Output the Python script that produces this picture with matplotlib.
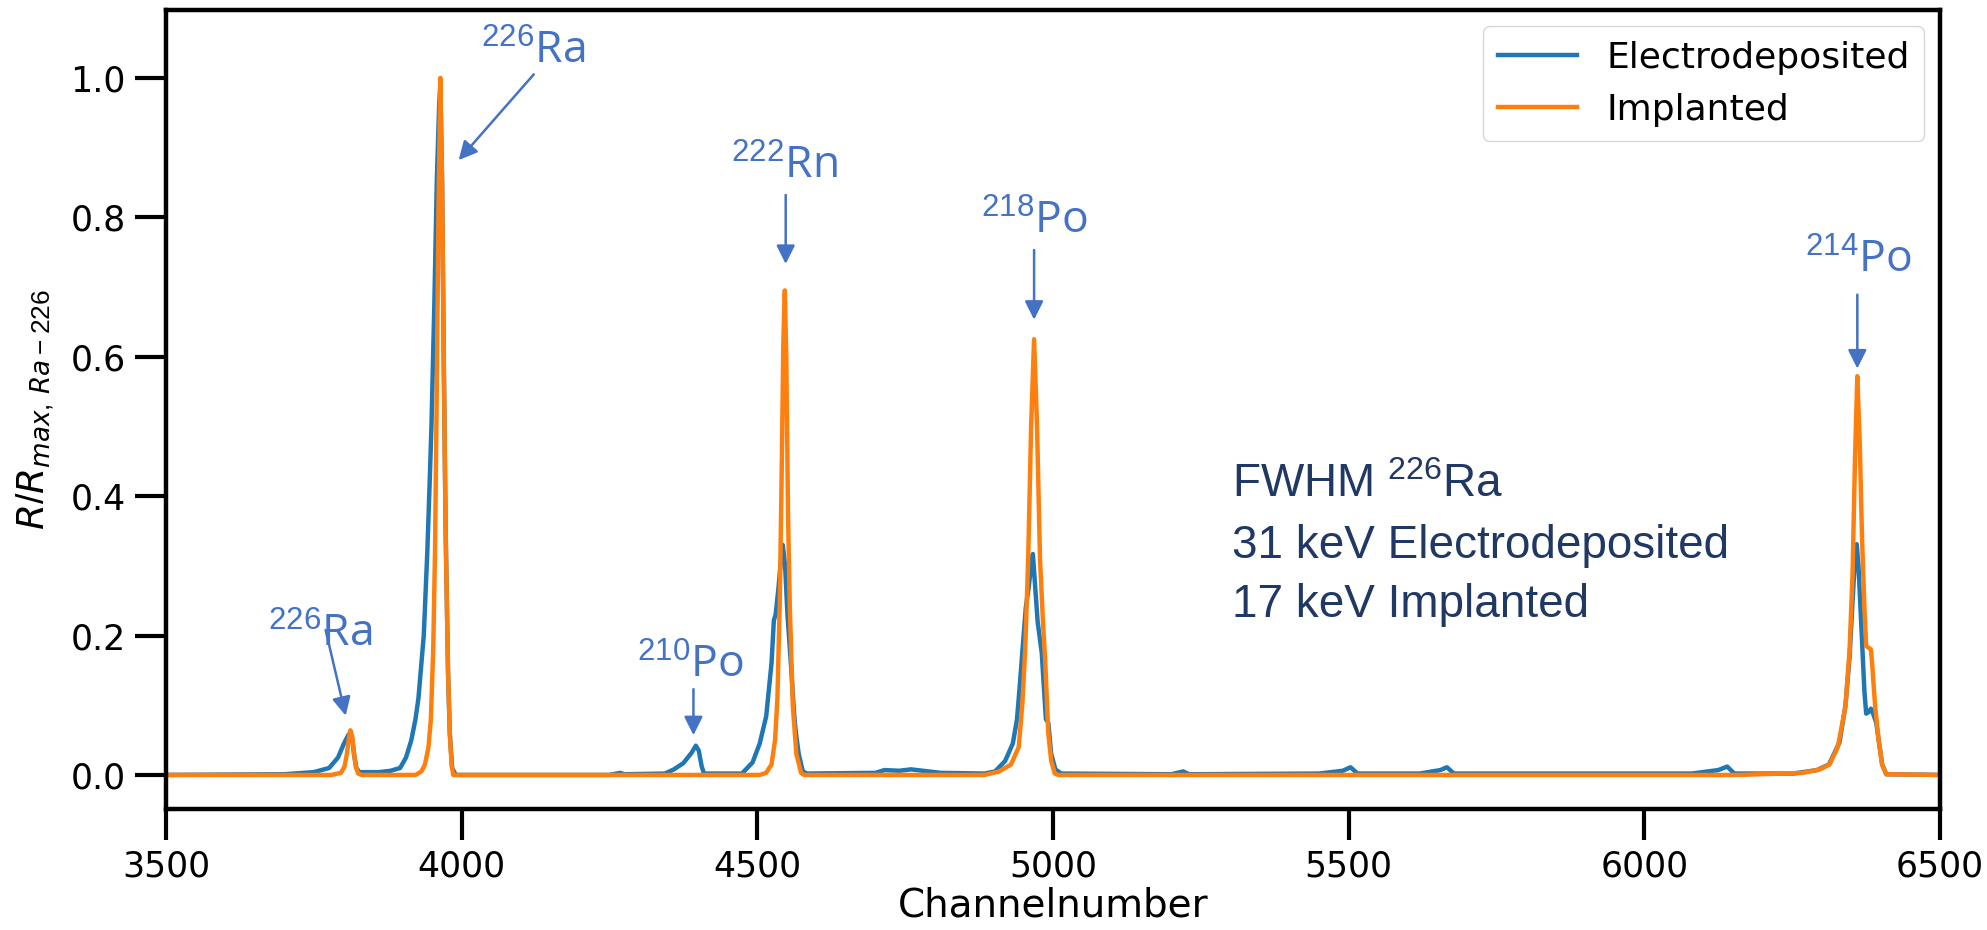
import numpy as np
from matplotlib import pyplot as plt

plt.rcParams['mathtext.fontset'] = 'custom'
plt.rcParams['mathtext.rm'] = 'Liberation Sans'
plt.rcParams['mathtext.it'] = 'DejaVu Sans:italic'
plt.rcParams['mathtext.bf'] = 'DejaVu Sans:bold'

# spectra (channel, normalised rate)
ch_electro = [3500, 3700, 3750, 3776, 3791, 3801, 3809, 3812, 3815, 3818, 3822, 3827, 3860, 3880,
              3896, 3906, 3915, 3922, 3927, 3932, 3936, 3942, 3946, 3949, 3954, 3958, 3962, 3964,
              3967, 3970, 3973, 3977, 3980, 3984, 3990, 4250, 4268, 4275, 4344, 4359, 4375, 4389,
              4396, 4401, 4406, 4410, 4474, 4492, 4504, 4515, 4524, 4528, 4531, 4536, 4540, 4543,
              4547, 4551, 4557, 4562, 4565, 4570, 4577, 4584, 4700, 4715, 4740, 4760, 4790, 4810,
              4884, 4902, 4919, 4932, 4939, 4944, 4948, 4954, 4959, 4963, 4966, 4969, 4974, 4981,
              4985, 4988, 4992, 4997, 5004, 5014, 5200, 5220, 5230, 5450, 5490, 5503, 5515, 5620,
              5655, 5666, 5678, 6080, 6125, 6140, 6152, 6252, 6292, 6312, 6330, 6340, 6347, 6352,
              6356, 6359, 6362, 6367, 6372, 6375, 6379, 6383, 6386, 6392, 6397, 6402, 6409, 6500]
r_electro = [0, 0.001, 0.004, 0.01, 0.025, 0.045, 0.058, 0.06, 0.052, 0.03, 0.01, 0.004, 0.004, 0.006,
             0.01, 0.025, 0.05, 0.08, 0.11, 0.16, 0.2, 0.32, 0.42, 0.5, 0.68, 0.85, 0.96, 0.99,
             0.85, 0.58, 0.35, 0.15, 0.06, 0.01, 0, 0, 0.003, 0.001, 0.002, 0.008, 0.017, 0.032,
             0.042, 0.035, 0.012, 0.002, 0.002, 0.018, 0.045, 0.084, 0.16, 0.222, 0.23, 0.27, 0.31, 0.33,
             0.3, 0.23, 0.157, 0.09, 0.062, 0.03, 0.005, 0.002, 0.003, 0.007, 0.006, 0.008, 0.005, 0.003,
             0.002, 0.005, 0.02, 0.045, 0.079, 0.13, 0.175, 0.24, 0.27, 0.3, 0.317, 0.28, 0.22, 0.175,
             0.12, 0.08, 0.075, 0.03, 0.008, 0.002, 0.001, 0.005, 0.001, 0.002, 0.006, 0.011, 0.002, 0.002,
             0.007, 0.011, 0.002, 0.002, 0.007, 0.012, 0.002, 0.002, 0.007, 0.015, 0.047, 0.1, 0.17, 0.25,
             0.31, 0.331, 0.3, 0.21, 0.12, 0.088, 0.09, 0.095, 0.09, 0.075, 0.045, 0.015, 0.001, 0]

ch_implant = [3500, 3780, 3796, 3802, 3806, 3809, 3812, 3815, 3818, 3821, 3825, 3831,
              3922, 3932, 3938, 3944, 3948, 3952, 3955, 3958, 3961, 3964, 3967, 3970, 3973, 3977,
              3980, 3983, 3986, 4504, 4515, 4524, 4530, 4534, 4538, 4541, 4544, 4546.5, 4549, 4552,
              4555, 4560, 4566, 4574, 4579, 4884, 4909, 4929, 4942, 4948, 4953, 4958, 4963, 4968,
              4973, 4978, 4983, 4987, 4992, 4997, 5003, 5009, 6160, 6268, 6297, 6313, 6327, 6340,
              6347, 6352, 6356, 6360, 6364, 6368, 6372, 6375, 6383, 6385, 6390, 6396, 6402, 6409, 6500]
r_implant = [0, 0, 0.003, 0.012, 0.03, 0.05, 0.064, 0.055, 0.032, 0.012, 0.002, 0,
             0, 0.005, 0.015, 0.04, 0.08, 0.18, 0.32, 0.55, 0.82, 1.0, 0.85, 0.58, 0.35, 0.15,
             0.06, 0.015, 0, 0, 0.003, 0.015, 0.05, 0.11, 0.25, 0.42, 0.62, 0.695, 0.6, 0.37,
             0.24, 0.1, 0.03, 0.003, 0, 0, 0.005, 0.015, 0.04, 0.1, 0.18, 0.31, 0.5, 0.625,
             0.5, 0.31, 0.22, 0.16, 0.06, 0.02, 0.002, 0, 0, 0.003, 0.008, 0.015, 0.04, 0.098,
             0.18, 0.29, 0.45, 0.572, 0.48, 0.34, 0.24, 0.185, 0.18, 0.16, 0.1, 0.05, 0.015, 0.001, 0]

# peak labels: (mass number, element, text x, text baseline y, arrow tail, arrow head)
iso_mass = ['226', '226', '222', '210', '218', '214']
iso_elem = ['Ra', 'Ra', 'Rn', 'Po', 'Po', 'Po']
label_xy = [(3761, 0.184), (4121, 1.021), (4546, 0.856), (4386, 0.14), (4968, 0.777), (6361, 0.72)]
arrow_from = [(3770, 0.208), (4122, 1.005), (4548, 0.832), (4392, 0.123), (4968, 0.753), (6360, 0.689)]
arrow_to = [(3804, 0.085), (3995, 0.882), (4548, 0.733), (4392, 0.057), (4968, 0.653), (6360, 0.583)]

fwhm_lines = ['FWHM $^{226}$Ra', '31 keV Electrodeposited', '17 keV Implanted']
fwhm_y = [0.399, 0.311, 0.227]

xticks = [3500, 4000, 4500, 5000, 5500, 6000, 6500]
yticks = [0.0, 0.2, 0.4, 0.6, 0.8, 1.0]

ANNOT_COLOR = '#4472c4'
FWHM_COLOR = '#203864'

fig = plt.figure(figsize=(19.87, 9.30), dpi=100)
ax = fig.add_axes([0.0835, 0.130, 0.8929, 0.859])

ax.plot(ch_electro, r_electro, color='#1f77b4', lw=3.2, label='Electrodeposited')
ax.plot(ch_implant, r_implant, color='#ff7f0e', lw=3.2, label='Implanted')

for mass, elem, txy, a0, a1 in zip(iso_mass, iso_elem, label_xy, arrow_from, arrow_to):
    ax.text(txy[0], txy[1], '$^{' + mass + '}$' + elem, color=ANNOT_COLOR, fontsize=32,
            family='Open Sans', ha='center', va='baseline')
    ax.annotate('', xy=a1, xytext=a0,
                arrowprops=dict(arrowstyle='-|>', color=ANNOT_COLOR, lw=1.8,
                                mutation_scale=28, shrinkA=0, shrinkB=0))

for line, yy in zip(fwhm_lines, fwhm_y):
    ax.text(5303, yy, line, color=FWHM_COLOR, fontsize=33, family='Liberation Sans',
            ha='left', va='baseline')

ax.set_xlim(3500, 6500)
ax.set_ylim(-0.049, 1.097)
ax.set_xticks(xticks)
ax.set_yticks(yticks)
ax.set_yticklabels([f'{t:.1f}' for t in yticks])
ax.tick_params(axis='both', which='major', labelsize=25, length=22, width=3, pad=7,
               direction='out')
for sp in ax.spines.values():
    sp.set_linewidth(3.2)

ax.set_xlabel('Channelnumber', fontsize=28, labelpad=2)
ax.set_ylabel(r'$R/R_{max,\,Ra-\mathit{226}}$', fontsize=27, labelpad=10)

ax.legend(loc='upper right', fontsize=26, borderaxespad=0.45, handlelength=2.2)

fig.savefig('out.png', dpi=100)
